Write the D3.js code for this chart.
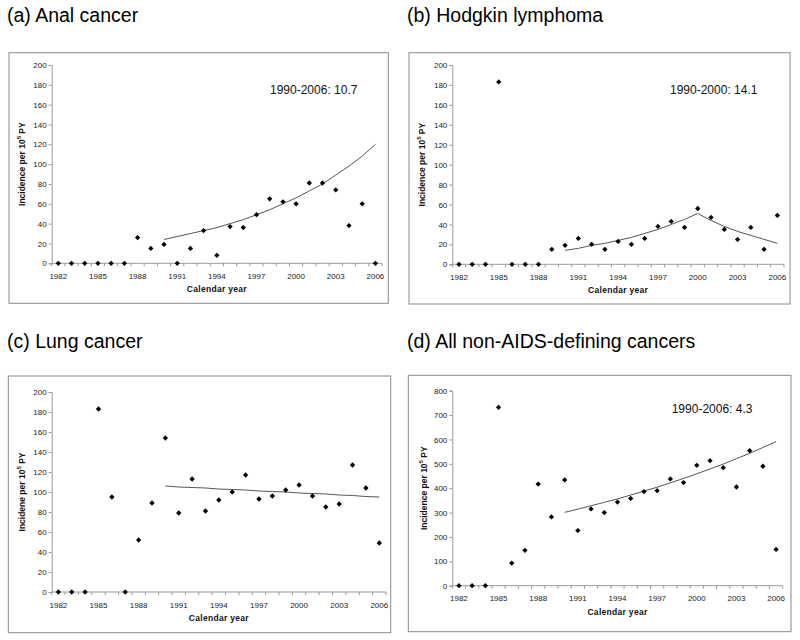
<!DOCTYPE html>
<html><head><meta charset="utf-8">
<script src="https://cdn.jsdelivr.net/npm/d3@7"></script>
<style>
body{margin:0;background:#fff;}
svg{display:block;font-family:"Liberation Sans",Arial,sans-serif;}
</style></head>
<body>
<svg id="chart" width="800" height="640"></svg>
<script>
// ---- data ----
const years = [1982,1983,1984,1985,1986,1987,1988,1989,1990,1991,1992,1993,1994,1995,1996,1997,1998,1999,2000,2001,2002,2003,2004,2005,2006];
const xTickLabels = [1982,1985,1988,1991,1994,1997,2000,2003,2006];
const trendYears = [1990,1991,1992,1993,1994,1995,1996,1997,1998,1999,2000,2001,2002,2003,2004,2005,2006];

const analValues     = [0,0,0,0,0,0,26,15,19,0,15,33,8,37,36,49,65,62,60,81,81,74,38,60,0];
const analTrend      = [24,27,30,33,36,40,44,49,54,60,66,73,80,89,98,108,120];
const hodgkinValues  = [0,0,0,183,0,0,0,15,19,26,20,15,23,20,26,38,43,37,56,47,35,25,37,15,49];
const hodgkinTrend   = [14,16,19,21,24,27,31,35,40,45,51,44,38,33,29,25,21];
const lungValues     = [0,0,0,183,95,0,52,89,154,79,113,81,92,100,117,93,96,102,107,96,85,88,127,104,49];
const lungTrend      = [106,105,104.5,104,103,102.5,102,101,100.5,100,99,98.5,98,97,96.5,95.5,95];
const allValues      = [0,0,0,732,93,145,417,282,434,226,315,300,343,358,386,390,438,423,494,513,484,405,554,490,149];
const allTrend       = [301,314,328,342,356,372,388,404,422,440,459,479,499,521,543,567,591];

const titles = ["(a) Anal cancer","(b) Hodgkin lymphoma","(c) Lung cancer","(d) All non-AIDS-defining cancers"];
const apcLabels = ["1990-2006: 10.7","1990-2000: 14.1",null,"1990-2006: 4.3"];
const yTitles = ["Incidence per 10","Incidence per 10","Incidene per 10","Incidence per 10"];
const yTicksSmall = [0,20,40,60,80,100,120,140,160,180,200];
const yTicksLarge = [0,100,200,300,400,500,600,700,800];

// ---- layout ----
const layouts = [
  {title:[7,22],  frame:[9,52.7,388.3,303.3],  plot:[51.7,382,65,263.3],   ytx:24.5,  label:[270,94]},
  {title:[407,22],frame:[409,52.7,790,304],    plot:[452.3,784,65,264.3],  ytx:424.5, label:[670,94]},
  {title:[7,348], frame:[8.3,376,390.7,632.7], plot:[51.7,386,392,592],    ytx:24.5,  label:null},
  {title:[407,348],frame:[408.3,375.3,791,631.7],plot:[452.3,782.7,390.7,585.7],ytx:426.5,label:[671.7,413.3]}
];

const panels = [
  {values:analValues, trend:analTrend, yTicks:yTicksSmall},
  {values:hodgkinValues, trend:hodgkinTrend, yTicks:yTicksSmall},
  {values:lungValues, trend:lungTrend, yTicks:yTicksSmall},
  {values:allValues, trend:allTrend, yTicks:yTicksLarge}
];

const svg = d3.select("#chart");
const axisColor = "#9a9a9a";

panels.forEach((p,i)=>{
  const L = layouts[i];
  const g = svg.append("g");
  g.append("text").attr("x",L.title[0]).attr("y",L.title[1])
    .attr("font-size","19.5px").attr("fill","#000").text(titles[i]);
  g.append("rect").attr("x",L.frame[0]).attr("y",L.frame[1])
    .attr("width",L.frame[2]-L.frame[0]).attr("height",L.frame[3]-L.frame[1])
    .attr("fill","#fff").attr("stroke","#8a8a8a").attr("stroke-width",1);

  const [x0,x1,yT,yB] = L.plot;
  const x = d3.scaleBand().domain(years).range([x0,x1]).padding(0);
  const bw = x.bandwidth();
  const cx = yr => x(yr) + bw/2;
  const yMax = p.yTicks[p.yTicks.length-1];
  const y = d3.scaleLinear().domain([0,yMax]).range([yB,yT]);

  const ya = g.append("g").attr("transform",`translate(${x0},0)`)
    .call(d3.axisLeft(y).tickValues(p.yTicks).tickSize(3).tickPadding(2));
  ya.select(".domain").attr("stroke",axisColor);
  ya.selectAll(".tick line").attr("stroke",axisColor);
  ya.selectAll(".tick text").attr("font-size","8px").attr("fill","#222")
    .attr("font-family","Liberation Sans, Arial, sans-serif");

  g.append("line").attr("x1",x0).attr("x2",x1).attr("y1",yB).attr("y2",yB)
    .attr("stroke",axisColor);
  const bounds = years.map(yr=>x(yr)).concat([x1]);
  g.selectAll(".xt").data(bounds).enter().append("line")
    .attr("x1",d=>d).attr("x2",d=>d).attr("y1",yB).attr("y2",yB+3)
    .attr("stroke",axisColor);
  g.selectAll(".xl").data(xTickLabels).enter().append("text")
    .attr("x",d=>cx(d)).attr("y",yB+15.5).attr("text-anchor","middle")
    .attr("font-size","8px").attr("fill","#222").text(d=>d);

  g.append("text").attr("x",(x0+x1)/2).attr("y",yB+29)
    .attr("text-anchor","middle").attr("font-size","8.5px").attr("font-weight","bold")
    .attr("letter-spacing","0.3px").attr("fill","#111").text("Calendar year");

  const yt = g.append("text")
    .attr("transform",`translate(${L.ytx},${(yT+yB)/2}) rotate(-90)`)
    .attr("text-anchor","middle").attr("font-size","8.5px").attr("font-weight","bold")
    .attr("fill","#111");
  yt.append("tspan").text(yTitles[i]);
  yt.append("tspan").attr("font-size","6px").attr("dy","-3.5").text("5");
  yt.append("tspan").attr("dy","3.5").text(" PY");

  const line = d3.line().x((d,k)=>cx(trendYears[k])).y(d=>y(d));
  g.append("path").datum(p.trend).attr("d",line)
    .attr("fill","none").attr("stroke","#555").attr("stroke-width",1);

  const sym = d3.symbol().type(d3.symbolSquare).size(14);
  g.selectAll(".pt").data(p.values).enter().append("path")
    .attr("d",sym)
    .attr("transform",(d,k)=>`translate(${cx(years[k])},${y(d)}) rotate(45)`)
    .attr("fill","#000");

  if (apcLabels[i] && L.label) {
    g.append("text").attr("x",L.label[0]).attr("y",L.label[1])
      .attr("font-size","12px").attr("fill","#111").text(apcLabels[i]);
  }
});
</script>
</body></html>
